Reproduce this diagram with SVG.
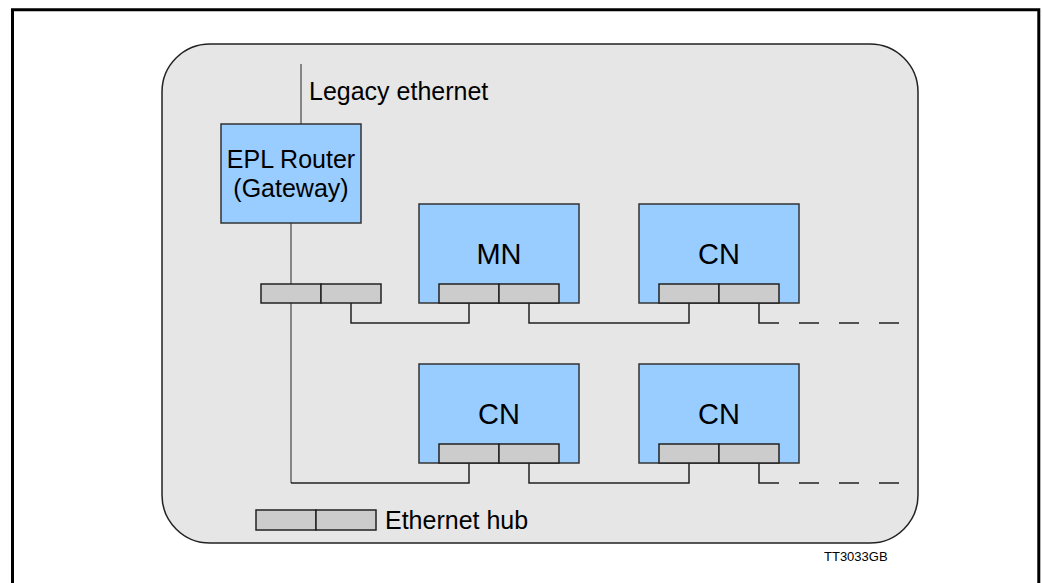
<svg xmlns="http://www.w3.org/2000/svg" width="1042" height="583" viewBox="0 0 1042 583">
<style>
text{font-family:"Liberation Sans",Arial,sans-serif;fill:#000}
.box{fill:#99ccff;stroke:#333;stroke-width:1.5}
.port{fill:#cccccc;stroke:#222;stroke-width:1.5}
.wire{fill:none;stroke:#222;stroke-width:1.5}
.lbl{font-size:25px}
.big{font-size:29px;text-anchor:middle}
</style>
<path d="M12.5,583 V9.7 H1038.8 V583" fill="none" stroke="#000" stroke-width="3"/>
<rect x="162" y="44" width="756" height="499" rx="48" ry="48" fill="#e6e6e6" stroke="#222" stroke-width="1.5"/>
<g id="connectors">
<line x1="301" y1="64" x2="301" y2="124" stroke="#666" stroke-width="1.5"/>
<line x1="291" y1="223" x2="291" y2="284" stroke="#666" stroke-width="1.5"/>
<line x1="291" y1="303" x2="291" y2="483" stroke="#666" stroke-width="1.5"/>
<polyline class="wire" points="351,303 351,323 469,323 469,303"/>
<polyline class="wire" points="529,303 529,323 689,323 689,303"/>
<polyline class="wire" points="759,303 759,323 779,323"/>
<line class="wire" x1="779" y1="323" x2="900" y2="323" stroke-dasharray="20 20" stroke-dashoffset="20"/>
<polyline class="wire" points="291,483 469,483 469,463"/>
<polyline class="wire" points="529,463 529,483 689,483 689,463"/>
<polyline class="wire" points="759,463 759,483 779,483"/>
<line class="wire" x1="779" y1="483" x2="900" y2="483" stroke-dasharray="20 20" stroke-dashoffset="20"/>
</g>
<g id="legacy">
<text class="lbl" x="309" y="100">Legacy ethernet</text>
</g>
<g id="router">
<rect class="box" x="221" y="124" width="140" height="99"/>
<text class="lbl" x="291" y="168" text-anchor="middle">EPL Router</text>
<text class="lbl" x="291" y="197" text-anchor="middle">(Gateway)</text>
</g>
<g id="hub">
<rect class="port" x="261" y="284" width="60" height="19"/>
<rect class="port" x="321" y="284" width="60" height="19"/>
</g>
<g id="mn">
<rect class="box" x="419" y="204" width="160" height="99"/>
<text class="big" x="499" y="264">MN</text>
<rect class="port" x="439" y="284" width="60" height="19"/>
<rect class="port" x="499" y="284" width="60" height="19"/>
</g>
<g id="cn1">
<rect class="box" x="639" y="204" width="160" height="99"/>
<text class="big" x="719" y="264">CN</text>
<rect class="port" x="659" y="284" width="60" height="19"/>
<rect class="port" x="719" y="284" width="60" height="19"/>
</g>
<g id="cn2">
<rect class="box" x="419" y="364" width="160" height="99"/>
<text class="big" x="499" y="424">CN</text>
<rect class="port" x="439" y="444" width="60" height="19"/>
<rect class="port" x="499" y="444" width="60" height="19"/>
</g>
<g id="cn3">
<rect class="box" x="639" y="364" width="160" height="99"/>
<text class="big" x="719" y="424">CN</text>
<rect class="port" x="659" y="444" width="60" height="19"/>
<rect class="port" x="719" y="444" width="60" height="19"/>
</g>
<g id="legend">
<rect class="port" x="256" y="510" width="60" height="20"/>
<rect class="port" x="316" y="510" width="60" height="20"/>
<text class="lbl" x="385" y="529">Ethernet hub</text>
</g>
<text x="824" y="561" font-size="13">TT3033GB</text>
</svg>
